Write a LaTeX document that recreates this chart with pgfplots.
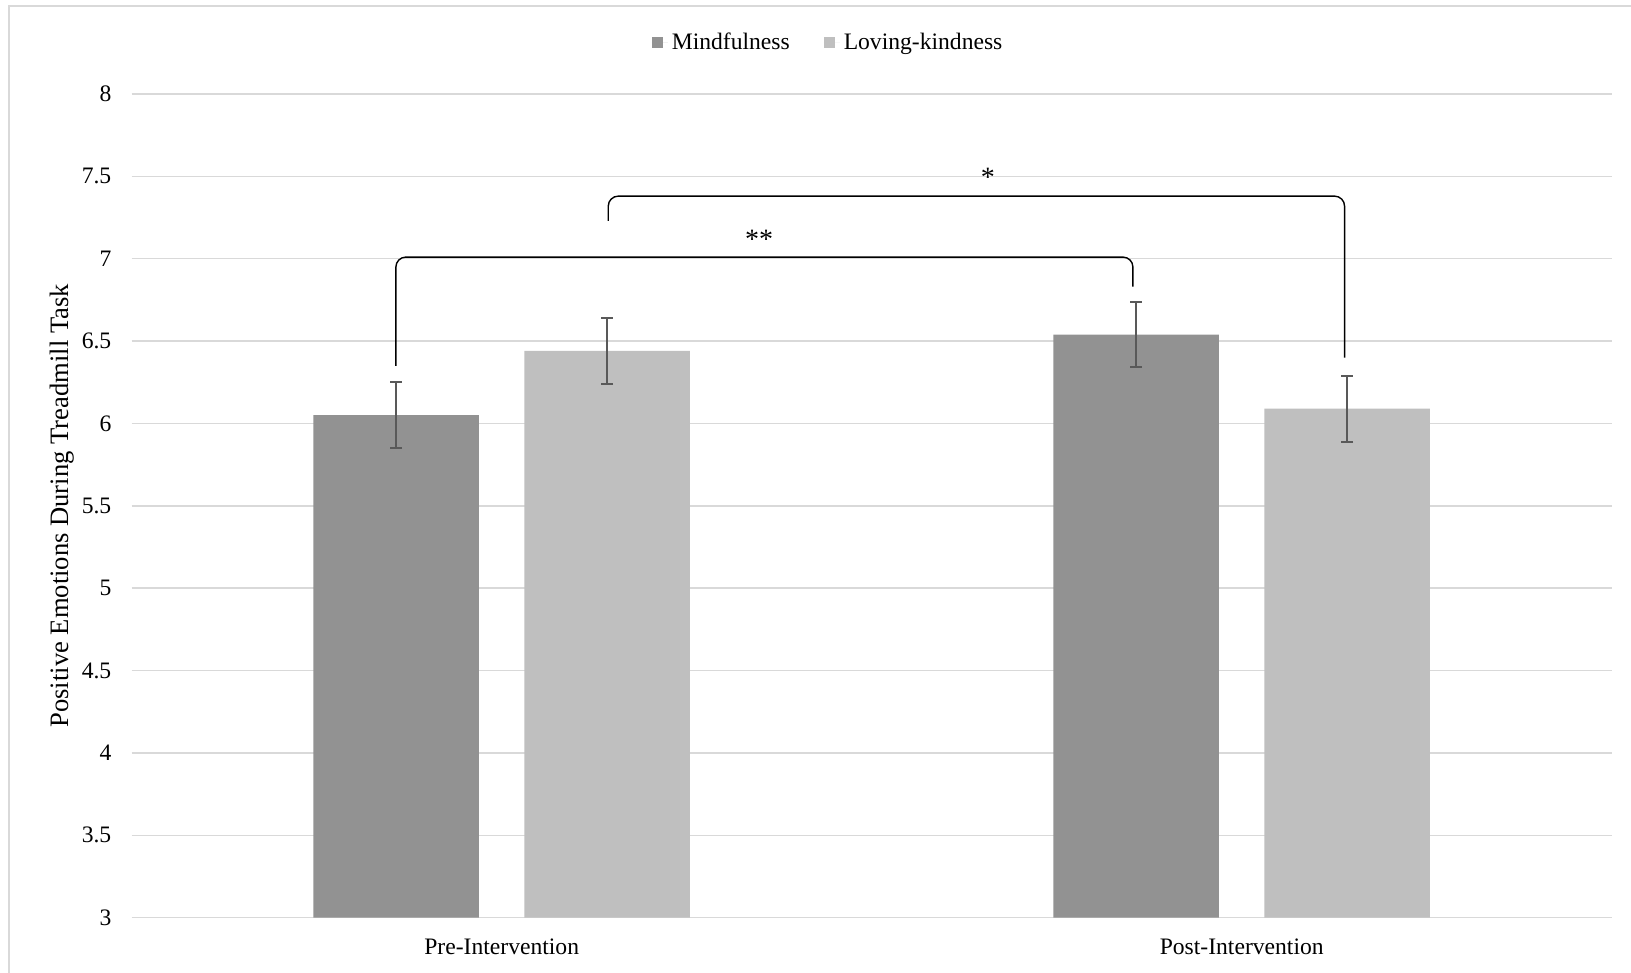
\documentclass[border=0pt]{standalone}
\usepackage{fontspec}
\setmainfont{Liberation Serif}
\usepackage{pgfplots}
\pgfplotsset{compat=1.18}
\definecolor{mind}{HTML}{929292}
\definecolor{love}{HTML}{BFBFBF}
\definecolor{gridc}{HTML}{D9D9D9}
\definecolor{errc}{HTML}{595959}
\newcommand{\chartfont}{\fontsize{11.8}{14}\selectfont}
\begin{document}
\begin{tikzpicture}
\path[use as bounding box] (0,0) rectangle (815.5pt,486.5pt);
% chart area frame (only left and top edges fall inside the picture)
\draw[gridc, line width=0.75pt] (4.5pt,0pt) -- (4.5pt,483.5pt) -- (815.5pt,483.5pt);
\begin{axis}[
    at={(65.85pt,27.65pt)}, anchor=south west,
    scale only axis,
    width=740pt, height=411.85pt,
    xmin=-0.5, xmax=1.5,
    ymin=3, ymax=8,
    ytick={3,3.5,...,8},
    xtick={0,1},
    xticklabels={Pre-Intervention, Post-Intervention},
    ybar,
    bar width=82.75pt,
    ymajorgrids,
    grid style={gridc, line width=0.75pt},
    axis line style={draw=none},
    major tick length=0pt,
    /pgf/number format/assume math mode=true,
    every tick label/.append style={font=\chartfont},
    yticklabel style={anchor=east, inner sep=0pt, xshift=-10pt},
    xticklabel style={anchor=base, inner sep=0pt, yshift=-18.2pt},
    ylabel={Positive Emotions During Treadmill Task},
    ylabel style={font=\fontsize{13.3}{16}\selectfont, at={(axis description cs:-0.0473,0.5)}, anchor=center},
    legend columns=2,
    legend style={draw=none, fill=none, font=\chartfont,
        at={(axis description cs:0.4712,1.0619)}, anchor=center,
        inner sep=0pt,
        /tikz/every even column/.append style={column sep=15pt}},
    legend image code/.code={\fill[#1] (0pt,-2.75pt) rectangle (5.5pt,2.75pt); \path (0pt,0pt) -- (8pt,0pt);},
    error bars/error bar style={errc, line width=1pt},
    error bars/error mark options={rotate=90, mark size=3pt, errc, line width=1pt},
]
\addplot[fill=mind, draw=none, bar shift=-52.75pt,
    error bars/.cd, y dir=both, y explicit]
    coordinates {(0,6.05) +- (0,0.2) (1,6.54) +- (0,0.2)};
\addlegendentry{Mindfulness}
\addplot[fill=love, draw=none, bar shift=52.75pt,
    error bars/.cd, y dir=both, y explicit]
    coordinates {(0,6.44) +- (0,0.2) (1,6.09) +- (0,0.2)};
\addlegendentry{Loving-kindness}

% significance brackets
\draw[black, line width=0.7pt, rounded corners=5pt]
    (axis cs:-0.143,6.35) -- (axis cs:-0.143,7.01) -- (axis cs:0.853,7.01) -- (axis cs:0.853,6.83);
\draw[black, line width=0.7pt, rounded corners=5pt]
    (axis cs:0.144,7.23) -- (axis cs:0.144,7.38) -- (axis cs:1.139,7.38) -- (axis cs:1.139,6.40);
\node[font=\fontsize{14}{16}\selectfont, anchor=base, inner sep=0pt] at (axis cs:0.348,7.06) {**};
\node[font=\fontsize{14}{16}\selectfont, anchor=base, inner sep=0pt] at (axis cs:0.657,7.44) {*};
\end{axis}
\end{tikzpicture}
\end{document}
